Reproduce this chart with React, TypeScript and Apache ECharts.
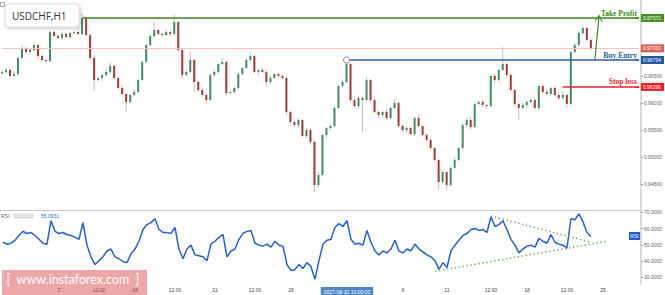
import React, { useEffect, useRef } from 'react';
import * as echarts from 'echarts';

// ---- Data ----
const SYMBOL = 'USDCHF,H1';
const FIRST_OPEN = 0.9655;
const PIP = 0.0001;

// close prices, one candle per slot
const closes = [
  0.96572, 0.96609, 0.96498, 0.96535, 0.96831, 0.97016, 0.96942, 0.96979, 0.97072, 0.96868,
  0.96794, 0.96776, 0.97312, 0.97238, 0.97201, 0.97275, 0.97220, 0.97294, 0.97312, 0.97275,
  0.97571, 0.97257, 0.96831, 0.96424, 0.96461, 0.96517, 0.96572, 0.96683, 0.96461, 0.96276,
  0.96165, 0.96017, 0.96147, 0.96202, 0.96424, 0.96757, 0.97072, 0.97238, 0.97349, 0.97275,
  0.97257, 0.97312, 0.97275, 0.97497, 0.96979, 0.96517, 0.96572, 0.96794, 0.96387, 0.96239,
  0.96147, 0.96054, 0.96517, 0.96572, 0.96720, 0.96757, 0.96184, 0.96202, 0.96276, 0.96535,
  0.96646, 0.96794, 0.96868, 0.96572, 0.96609, 0.96572, 0.96387, 0.96461, 0.96535, 0.96498,
  0.96461, 0.95832, 0.95647, 0.95592, 0.95684, 0.95388, 0.95499, 0.95277, 0.94482, 0.94667,
  0.95407, 0.95536, 0.95573, 0.95906, 0.96313, 0.96387, 0.96720, 0.96054, 0.95943, 0.96091,
  0.96054, 0.96424, 0.96054, 0.95832, 0.95777, 0.95832, 0.95721, 0.95906, 0.95999, 0.95573,
  0.95499, 0.95536, 0.95425, 0.95721, 0.95573, 0.95407, 0.95314, 0.95166, 0.94944, 0.94537,
  0.94722, 0.94482, 0.94796, 0.94944, 0.95166, 0.95592, 0.95684, 0.95555, 0.95980, 0.96017,
  0.95962, 0.95943, 0.96498, 0.96424, 0.96609, 0.96720, 0.96517, 0.96239, 0.95980, 0.95906,
  0.95962, 0.96017, 0.96054, 0.95906, 0.96313, 0.96202, 0.96165, 0.96276, 0.96147, 0.96091,
  0.96147, 0.95980, 0.96942, 0.97072, 0.97294, 0.97386, 0.97164, 0.97010,
];

// upper / lower wick lengths in pips
const upWick = [
  3, 4, 2, 5, 3, 4, 2, 3, 5, 2,
  3, 2, 4, 3, 2, 5, 3, 2, 3, 4,
  9, 3, 2, 4, 3, 2, 5, 6, 2, 3,
  4, 2, 3, 5, 2, 3, 2, 4, 15, 3,
  2, 4, 3, 13, 2, 3, 4, 15, 2, 3,
  4, 2, 3, 5, 2, 7, 3, 2, 4, 3,
  2, 4, 7, 3, 2, 5, 3, 4, 2, 3,
  3, 4, 2, 5, 3, 2, 4, 3, 2, 5,
  3, 2, 4, 3, 2, 5, 7, 3, 2, 4,
  3, 5, 2, 4, 3, 2, 5, 3, 7, 2,
  3, 4, 2, 3, 6, 2, 3, 4, 2, 3,
  4, 2, 3, 5, 2, 3, 4, 6, 2, 3,
  5, 2, 3, 4, 2, 31, 3, 4, 2, 3,
  4, 2, 3, 5, 2, 3, 4, 2, 3, 5,
  6, 2, 3, 4, 3, 5, 2, 4,
];
const downWick = [
  4, 3, 5, 2, 3, 2, 4, 3, 2, 5,
  2, 4, 3, 2, 5, 3, 2, 4, 3, 2,
  3, 2, 4, 20, 3, 5, 2, 3, 4, 3,
  5, 18, 3, 2, 4, 3, 2, 3, 4, 2,
  3, 2, 5, 3, 4, 6, 3, 2, 18, 4,
  3, 7, 2, 4, 3, 2, 5, 3, 4, 2,
  3, 2, 4, 3, 5, 2, 8, 3, 2, 4,
  3, 5, 4, 3, 6, 3, 4, 5, 13, 4,
  3, 5, 4, 3, 2, 3, 2, 4, 3, 5,
  59, 3, 4, 2, 5, 3, 4, 2, 3, 4,
  3, 5, 2, 4, 3, 2, 5, 3, 4, 15,
  3, 9, 4, 3, 2, 5, 3, 4, 2, 3,
  4, 3, 2, 5, 3, 2, 4, 3, 5, 22,
  3, 4, 2, 3, 5, 3, 2, 4, 3, 4,
  3, 7, 5, 3, 2, 4, 3, 4,
];

const rsi = [
  51.6, 50.4, 51.0, 52.8, 55.8, 58.3, 57.0, 57.6, 55.8, 53.4,
  51.0, 50.4, 64.9, 58.3, 57.0, 57.6, 56.4, 55.8, 54.6, 53.4,
  63.7, 49.8, 42.6, 37.8, 40.2, 42.6, 46.2, 47.4, 42.6, 41.4,
  39.6, 39.0, 44.4, 47.4, 52.2, 59.5, 62.5, 63.7, 66.1, 59.5,
  57.6, 57.6, 57.0, 60.7, 47.4, 41.4, 47.4, 49.8, 43.8, 43.2,
  42.6, 40.2, 50.4, 52.2, 54.6, 56.4, 42.6, 46.2, 47.4, 53.4,
  57.0, 58.3, 58.9, 51.0, 49.8, 49.2, 50.4, 48.6, 52.2, 49.8,
  49.2, 37.8, 34.2, 34.8, 37.8, 35.4, 39.0, 36.6, 28.7, 40.2,
  50.4, 52.8, 53.4, 60.7, 63.1, 61.3, 64.9, 53.4, 50.4, 51.0,
  49.8, 58.9, 51.6, 46.2, 43.8, 46.2, 45.0, 47.4, 52.8, 46.2,
  45.0, 47.4, 46.2, 50.4, 47.4, 45.6, 43.8, 42.6, 40.2, 34.8,
  39.0, 36.0, 46.2, 49.8, 52.8, 55.8, 57.0, 59.5, 60.1, 58.9,
  59.5, 57.6, 67.3, 61.3, 62.5, 64.9, 59.5, 53.4, 49.8, 45.0,
  47.4, 49.2, 49.8, 48.6, 54.0, 52.2, 51.0, 56.4, 51.6, 50.4,
  49.8, 48.0, 66.1, 65.5, 69.1, 64.3, 57.6, 55.1,
];
const RSI_LAST = 55.0931;

// price levels
const TAKE_PROFIT = 0.97571;
const BUY_ENTRY = 0.96794;
const STOP_LOSS = 0.96296;
const LAST_PRICE = 0.9701;
const TP_FROM = 20;
const ENTRY_FROM = 86;
const SL_FROM = 140;

// RSI trendlines: [slot, value] pairs
const rsiUpperTrend = [[122, 67.8], [147, 51.6]];
const rsiLowerTrend = [[108, 33.6], [151, 52.2]];

// axis ticks
const SLOTS = 160;
const X_TICK_SLOTS = [14, 24, 33, 43, 53, 63, 72, 100, 111, 122, 131, 141, 150];
const X_TICK_LABELS = ['7', '12:00', '14', '12:00', '21', '12:00', '28', '6', '11', '12:00', '18', '12:00', '25'];
const CURSOR_SLOT = 86;
const CURSOR_LABEL = '2017-08-31 10:00:00';
const PRICE_TICKS = [0.945, 0.95, 0.955, 0.96, 0.965, 0.97];
const RSI_TICKS = [30, 40, 50, 60, 70];

// ---- Styles ----
const UP = '#3f8f62';
const DOWN = '#a83a33';
const WICK = '#bdbdbd';
const AXIS_FONT = 'Liberation Sans';
const SERIF = 'Liberation Serif';

function buildOption() {
  const candles = closes.map((c, i) => {
    const o = i === 0 ? FIRST_OPEN : closes[i - 1];
    const hi = Math.max(o, c) + (upWick[i] ?? 3) * PIP;
    const lo = Math.min(o, c) - (downWick[i] ?? 3) * PIP;
    return [i, o, c, lo, hi];
  });
  const cats = Array.from({ length: SLOTS }, (_, i) => 's' + i);

  const boxLabel = (text: string, bg: string) => ({
    show: true,
    position: 'end',
    distance: 2,
    formatter: text,
    backgroundColor: bg,
    color: '#fff',
    fontSize: 5,
    fontFamily: AXIS_FONT,
    padding: [2, 3, 1, 2],
  });
  const levelLabel = (text: string, color: string) => ({
    show: true,
    position: 'insideEndTop',
    distance: [2, 1],
    formatter: text,
    color,
    fontSize: 7.5,
    fontWeight: 'bold',
    fontFamily: SERIF,
  });

  const level = (from: number, v: number, color: string, width: number, label: any) => [
    { coord: [from, v], lineStyle: { color, width, type: 'solid' }, label },
    { coord: [SLOTS - 1, v] },
  ];
  const boxSeg = (v: number, color: string, width: number, bg: string) => [
    { coord: [SLOTS - 2, v], lineStyle: { color, width, type: 'solid' }, label: boxLabel(v.toFixed(5), bg) },
    { coord: [SLOTS - 1, v] },
  ];

  const rightAxis = (grid: number, min: number, max: number, ticks: number[], digits: number) => ({
    type: 'value',
    gridIndex: grid,
    position: 'right',
    min,
    max,
    scale: true,
    axisLine: { show: true, onZero: false, lineStyle: { color: '#cfcfcf', width: 1.5 } },
    axisTick: { show: true, length: 2, customValues: ticks, lineStyle: { color: '#9a9a9a' } },
    axisLabel: {
      customValues: ticks,
      formatter: (v: number) => v.toFixed(digits),
      fontSize: 5,
      color: '#666',
      fontFamily: AXIS_FONT,
      margin: 3,
    },
    splitLine: { show: false },
  });

  return {
    animation: false,
    backgroundColor: '#ffffff',
    grid: [
      { left: 0, right: 23, top: 0, height: 210 },
      { left: 0, right: 23, top: 211, height: 75 },
    ],
    xAxis: [
      {
        type: 'category',
        gridIndex: 0,
        data: cats,
        boundaryGap: true,
        axisLine: { show: true, lineStyle: { color: '#c9c9c9', width: 1 } },
        axisTick: { show: false },
        axisLabel: { show: false },
        splitLine: { show: false },
      },
      {
        type: 'category',
        gridIndex: 1,
        data: cats,
        boundaryGap: true,
        axisLine: { show: false },
        axisTick: { show: false },
        splitLine: { show: false },
        axisLabel: {
          interval: 0,
          fontSize: 5,
          color: '#444',
          fontFamily: AXIS_FONT,
          margin: 3,
          formatter: (_v: string, idx: number) => {
            if (idx === CURSOR_SLOT) return `{hl|${CURSOR_LABEL}}`;
            const k = X_TICK_SLOTS.indexOf(idx);
            return k >= 0 ? X_TICK_LABELS[k] : '';
          },
          rich: {
            hl: {
              backgroundColor: '#4f86c6',
              color: '#fff',
              fontSize: 5,
              fontFamily: AXIS_FONT,
              padding: [2, 3, 1, 3],
            },
          },
        },
      },
    ],
    yAxis: [
      rightAxis(0, 0.94019, 0.97904, PRICE_TICKS, 5),
      rightAxis(1, 25.8, 70.9, RSI_TICKS, 4),
    ],
    series: [
      {
        type: 'custom',
        name: 'USDCHF',
        xAxisIndex: 0,
        yAxisIndex: 0,
        data: candles,
        encode: { x: 0, y: [1, 2, 3, 4] },
        renderItem: (_params: any, api: any) => {
          const i = api.value(0);
          const o = api.value(1);
          const c = api.value(2);
          const lo = api.value(3);
          const hi = api.value(4);
          const pO = api.coord([i, o]);
          const pC = api.coord([i, c]);
          const pL = api.coord([i, lo]);
          const pH = api.coord([i, hi]);
          const bw = Math.max(1.5, api.size([1, 0])[0] * 0.5);
          const top = Math.min(pO[1], pC[1]);
          const h = Math.max(1, Math.abs(pO[1] - pC[1]));
          return {
            type: 'group',
            children: [
              {
                type: 'line',
                shape: { x1: pL[0], y1: pL[1], x2: pH[0], y2: pH[1] },
                style: { stroke: WICK, lineWidth: 1 },
              },
              {
                type: 'rect',
                shape: { x: pO[0] - bw / 2, y: top, width: bw, height: h },
                style: { fill: c >= o ? UP : DOWN },
              },
            ],
          };
        },
      },
      {
        type: 'line',
        name: 'levels',
        xAxisIndex: 0,
        yAxisIndex: 0,
        data: [],
        silent: true,
        markLine: {
          silent: true,
          symbol: ['none', 'none'],
          animation: false,
          data: [
            [
              { coord: [0, LAST_PRICE], lineStyle: { color: '#f6c0bd', width: 1, type: 'solid' }, label: boxLabel(LAST_PRICE.toFixed(5), '#df5f58') },
              { coord: [SLOTS - 1, LAST_PRICE] },
            ],
            level(TP_FROM, TAKE_PROFIT, '#3b8a1f', 1.5, levelLabel('Take Profit', '#3b8a1f')),
            level(ENTRY_FROM, BUY_ENTRY, '#2660a8', 1.5, levelLabel('Buy Entry', '#2660a8')),
            level(SL_FROM, STOP_LOSS, '#e3262e', 1.5, levelLabel('Stop loss', '#e3262e')),
            boxSeg(TAKE_PROFIT, '#3b8a1f', 1.5, '#4a8f26'),
            boxSeg(BUY_ENTRY, '#2660a8', 1.5, '#1f57a0'),
            boxSeg(STOP_LOSS, '#e3262e', 1.5, '#f01d25'),
            [
              { coord: [148, BUY_ENTRY], lineStyle: { color: '#3b8a1f', width: 1.2, type: 'solid' }, label: { show: false } },
              {
                coord: [149, TAKE_PROFIT],
                symbol: 'path://M0,10 L5,0 L10,10 L8.6,10 L5,2.8 L1.4,10 Z',
                symbolSize: [8, 7],
              },
            ],
          ],
        },
        markPoint: {
          silent: true,
          symbol: 'circle',
          symbolSize: 6,
          itemStyle: { color: '#ffffff', borderColor: '#8a8a8a', borderWidth: 1 },
          label: { show: false },
          data: [{ coord: [ENTRY_FROM, BUY_ENTRY] }],
        },
      },
      {
        type: 'line',
        name: 'RSI',
        xAxisIndex: 1,
        yAxisIndex: 1,
        data: rsi,
        showSymbol: false,
        symbol: 'none',
        lineStyle: { color: '#2262d6', width: 1.5 },
        markLine: {
          silent: true,
          symbol: ['none', 'none'],
          label: { show: false },
          lineStyle: { color: '#79b35a', width: 1.5, type: [1.5, 2.5] },
          data: [
            [{ coord: rsiUpperTrend[0] }, { coord: rsiUpperTrend[1] }],
            [{ coord: rsiLowerTrend[0] }, { coord: rsiLowerTrend[1] }],
          ],
        },
      },
    ],
    graphic: [
      // symbol box
      {
        type: 'rect',
        z: 100,
        shape: { x: 5, y: 4, width: 74, height: 23, r: 3 },
        style: {
          fill: '#ffffff',
          stroke: '#dddddd',
          lineWidth: 1,
          shadowBlur: 3,
          shadowOffsetX: 1,
          shadowOffsetY: 1,
          shadowColor: 'rgba(0,0,0,0.25)',
        },
      },
      {
        type: 'text',
        z: 101,
        x: 12,
        y: 16,
        style: {
          text: SYMBOL,
          fill: '#333333',
          fontSize: 10,
          fontFamily: 'Open Sans',
          textVerticalAlign: 'middle',
          textAlign: 'left',
        },
      },
      {
        type: 'rect',
        z: 100,
        shape: { x: 0.5, y: 2.5, width: 4, height: 4 },
        style: { fill: '#f4f4f4', stroke: '#aaaaaa', lineWidth: 1 },
      },
      // RSI header
      {
        type: 'text',
        z: 100,
        x: 1,
        y: 216,
        style: { text: 'RSI', fill: '#666', fontSize: 5, fontFamily: AXIS_FONT, textVerticalAlign: 'middle' },
      },
      {
        type: 'text',
        z: 100,
        x: 9,
        y: 216,
        style: { text: '-', fill: '#888', fontSize: 5, fontFamily: AXIS_FONT, textVerticalAlign: 'middle' },
      },
      ...[14, 19, 24, 29].map((x) => ({
        type: 'rect',
        z: 100,
        shape: { x, y: 214, width: 4, height: 4 },
        style: { fill: '#eeeeee', stroke: '#c5c5c5', lineWidth: 0.6 },
      })),
      {
        type: 'text',
        z: 100,
        x: 41,
        y: 216,
        style: {
          text: RSI_LAST.toFixed(4),
          fill: '#2a6fd6',
          fontSize: 5,
          fontFamily: AXIS_FONT,
          textVerticalAlign: 'middle',
        },
      },
      // RSI badge
      {
        type: 'rect',
        z: 100,
        shape: { x: 629, y: 232, width: 11, height: 8 },
        style: { fill: '#1d5fc8' },
      },
      {
        type: 'text',
        z: 101,
        x: 634.5,
        y: 236.3,
        style: {
          text: 'RSI',
          fill: '#ffffff',
          fontSize: 5,
          fontFamily: AXIS_FONT,
          textAlign: 'center',
          textVerticalAlign: 'middle',
        },
      },
      // watermark
      {
        type: 'rect',
        z: 100,
        shape: { x: 2, y: 270, width: 145, height: 25 },
        style: { fill: 'rgba(215,60,65,0.45)' },
      },
      {
        type: 'text',
        z: 101,
        x: 73,
        y: 279.5,
        style: {
          text: '[  www.instaforex.com  ]',
          fill: '#ffffff',
          fontSize: 12.5,
          lineHeight: 13,
          fontFamily: 'Lato',
          textAlign: 'center',
          textVerticalAlign: 'middle',
        },
      },
    ],
  };
}

export default function App() {
  const ref = useRef<HTMLDivElement>(null);
  useEffect(() => {
    if (!ref.current) return;
    const chart = echarts.init(ref.current, null, { renderer: 'svg' });
    chart.setOption(buildOption() as any);
    return () => {
      chart.dispose();
    };
  }, []);
  return (
    <div
      ref={ref}
      style={{ position: 'fixed', left: 0, top: 0, width: 665, height: 295, background: '#fff' }}
    />
  );
}
